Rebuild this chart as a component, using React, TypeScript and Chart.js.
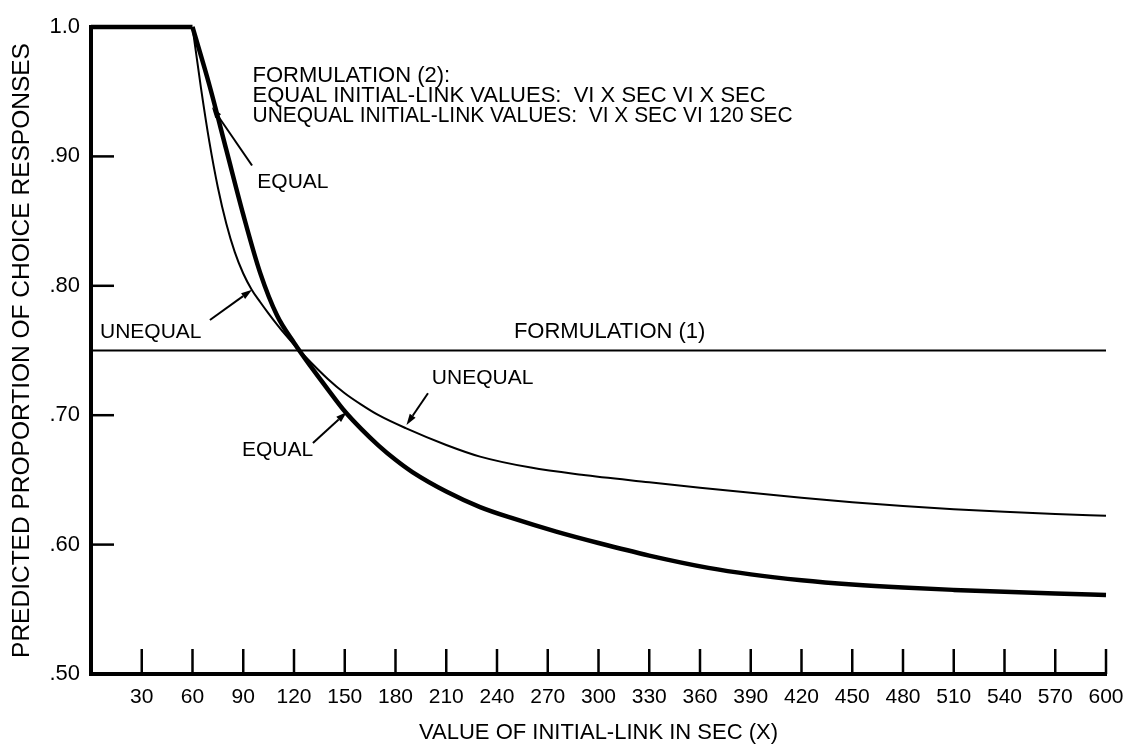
import React, { useEffect, useRef } from 'react';
import { Chart, registerables } from 'chart.js';

Chart.register(...registerables);

// ---- data ----
const xTickValues = [30, 60, 90, 120, 150, 180, 210, 240, 270, 300, 330, 360, 390, 420, 450, 480, 510, 540, 570, 600];
const yTickValues = [0.5, 0.6, 0.7, 0.8, 0.9, 1.0];
const yTickLabels = ['.50', '.60', '.70', '.80', '.90', '1.0'];
const yInnerTicks = [0.6, 0.7, 0.8, 0.9];

const plateauX = [0, 60];
const plateauY = [1.0, 1.0];

const equalX = [60, 70, 80, 90, 100, 110, 120, 130, 140, 150, 160, 170, 180, 190, 210, 230, 250, 275, 300, 330, 365, 390, 420, 450, 480, 510, 540, 570, 600];
const equalY = [1.0, 0.955, 0.905, 0.855, 0.81, 0.777, 0.756, 0.7375, 0.72, 0.703, 0.689, 0.6765, 0.6655, 0.656, 0.641, 0.629, 0.62, 0.61, 0.6012, 0.5915, 0.582, 0.577, 0.5725, 0.5692, 0.5668, 0.565, 0.5635, 0.5622, 0.561];

const unequalX = [60, 65, 70, 75, 80, 85, 90, 95, 100, 105, 110, 115, 120, 125, 140, 150, 160, 170, 186, 210, 230, 260, 290, 330, 360, 390, 420, 450, 480, 510, 540, 570, 600];
const unequalY = [1.0, 0.953, 0.911, 0.876, 0.848, 0.826, 0.8095, 0.797, 0.7875, 0.7785, 0.77, 0.762, 0.7545, 0.7475, 0.728, 0.717, 0.708, 0.7, 0.69, 0.677, 0.668, 0.6595, 0.654, 0.6482, 0.644, 0.64, 0.6362, 0.6328, 0.6298, 0.6273, 0.6253, 0.6236, 0.6222];

const formulation1X = [0, 600];
const formulation1Y = [0.75, 0.75];

const xTitle = 'VALUE OF INITIAL-LINK IN SEC (X)';
const yTitle = 'PREDICTED PROPORTION OF CHOICE RESPONSES';

// annotation texts (data coordinates of the left/middle anchor)
const noteTexts = [
  { text: 'FORMULATION (2):', x: 95.5, y: 0.9625, size: 22, maxW: 203 },
  { text: 'EQUAL INITIAL-LINK VALUES:  VI X SEC VI X SEC', x: 95.5, y: 0.947, size: 22, maxW: 535 },
  { text: 'UNEQUAL INITIAL-LINK VALUES:  VI X SEC VI 120 SEC', x: 95.5, y: 0.9315, size: 22, maxW: 540 },
  { text: 'EQUAL', x: 98.3, y: 0.88, size: 21, maxW: 0 },
  { text: 'UNEQUAL', x: 5.3, y: 0.764, size: 21, maxW: 0 },
  { text: 'FORMULATION (1)', x: 250, y: 0.764, size: 22, maxW: 0 },
  { text: 'UNEQUAL', x: 201.5, y: 0.7287, size: 21, maxW: 0 },
  { text: 'EQUAL', x: 89.2, y: 0.673, size: 21, maxW: 0 },
];

// arrows: tail -> tip (data coordinates)
const noteArrows = [
  { from: [95.2, 0.893], to: [71.5, 0.938] },
  { from: [70.3, 0.7736], to: [95.2, 0.797] },
  { from: [199.2, 0.717], to: [186.5, 0.6925] },
  { from: [131.2, 0.6785], to: [151.2, 0.7025] },
];

const FONT = '"Liberation Sans", Arial, sans-serif';

const pts = (xs: number[], ys: number[]) => xs.map((x, i) => ({ x, y: ys[i] }));

const overlayPlugin = {
  id: 'overlay',
  afterDraw(chart: any) {
    const { ctx, chartArea, scales } = chart;
    const xs = scales.x;
    const ys = scales.y;
    ctx.save();
    ctx.strokeStyle = '#000';
    ctx.fillStyle = '#000';
    ctx.lineCap = 'butt';
    // inward ticks
    ctx.lineWidth = 2.5;
    xTickValues.forEach((v) => {
      const px = xs.getPixelForValue(v);
      ctx.beginPath();
      ctx.moveTo(px, chartArea.bottom);
      ctx.lineTo(px, chartArea.bottom - 25);
      ctx.stroke();
    });
    yInnerTicks.forEach((v) => {
      const py = ys.getPixelForValue(v);
      ctx.beginPath();
      ctx.moveTo(chartArea.left, py);
      ctx.lineTo(chartArea.left + 23, py);
      ctx.stroke();
    });
    // texts
    ctx.textBaseline = 'middle';
    ctx.textAlign = 'left';
    noteTexts.forEach((t) => {
      ctx.font = `${t.size}px ${FONT}`;
      const px = xs.getPixelForValue(t.x);
      const py = ys.getPixelForValue(t.y);
      if (t.maxW) ctx.fillText(t.text, px, py, t.maxW);
      else ctx.fillText(t.text, px, py);
    });
    // arrows
    ctx.lineWidth = 2;
    noteArrows.forEach((a) => {
      const x1 = xs.getPixelForValue(a.from[0]);
      const y1 = ys.getPixelForValue(a.from[1]);
      const x2 = xs.getPixelForValue(a.to[0]);
      const y2 = ys.getPixelForValue(a.to[1]);
      const ang = Math.atan2(y2 - y1, x2 - x1);
      const len = 11;
      const hw = 3.5;
      const bx = x2 - len * Math.cos(ang);
      const by = y2 - len * Math.sin(ang);
      ctx.beginPath();
      ctx.moveTo(x1, y1);
      ctx.lineTo(bx, by);
      ctx.stroke();
      ctx.beginPath();
      ctx.moveTo(x2, y2);
      ctx.lineTo(bx + hw * Math.sin(ang), by - hw * Math.cos(ang));
      ctx.lineTo(bx - hw * Math.sin(ang), by + hw * Math.cos(ang));
      ctx.closePath();
      ctx.fill();
    });
    ctx.restore();
  },
};

export default function App() {
  const ref = useRef<HTMLCanvasElement | null>(null);
  useEffect(() => {
    document.body.style.margin = '0';
    if (!ref.current) return;
    Chart.defaults.font.family = FONT;
    Chart.defaults.color = '#000';
    const chart = new Chart(ref.current, {
      type: 'line',
      data: {
        datasets: [
          { label: 'plateau', data: pts(plateauX, plateauY), borderColor: '#000', borderWidth: 4.5, pointRadius: 0, clip: false as any },
          { label: 'EQUAL', data: pts(equalX, equalY), borderColor: '#000', borderWidth: 4.5, pointRadius: 0, cubicInterpolationMode: 'monotone', clip: false as any },
          { label: 'UNEQUAL', data: pts(unequalX, unequalY), borderColor: '#000', borderWidth: 2, pointRadius: 0, cubicInterpolationMode: 'monotone', clip: false as any },
          { label: 'FORMULATION (1)', data: pts(formulation1X, formulation1Y), borderColor: '#000', borderWidth: 2, pointRadius: 0, clip: false as any },
        ],
      },
      options: {
        animation: false,
        responsive: false,
        devicePixelRatio: 1,
        layout: { padding: { top: 27, right: 21, left: 0, bottom: 0 } },
        plugins: { legend: { display: false }, tooltip: { enabled: false } },
        scales: {
          x: {
            type: 'linear',
            min: 0,
            max: 600,
            grid: { display: false, drawTicks: false, tickLength: 0 },
            border: { display: true, width: 4, color: '#000' },
            afterBuildTicks: (s: any) => { s.ticks = xTickValues.map((v) => ({ value: v })); },
            afterFit: (s: any) => { s.height = 70; s.paddingLeft = 0; s.paddingRight = 0; },
            ticks: { padding: 11, font: { size: 21, family: FONT }, color: '#000', maxRotation: 0, autoSkip: false, callback: (v: any) => String(v) },
            title: { display: true, text: xTitle, font: { size: 22, family: FONT, lineHeight: 0.8 }, color: '#000', padding: { top: 0, bottom: 2 } },
          },
          y: {
            type: 'linear',
            min: 0.5,
            max: 1.0,
            grid: { display: false, drawTicks: false, tickLength: 0 },
            border: { display: true, width: 4, color: '#000' },
            afterBuildTicks: (s: any) => { s.ticks = yTickValues.map((v) => ({ value: v })); },
            afterFit: (s: any) => { s.width = 91; s.paddingTop = 0; s.paddingBottom = 0; },
            ticks: {
              padding: 11,
              font: { size: 22, family: FONT },
              color: '#000',
              autoSkip: false,
              callback: (v: any) => {
                const i = yTickValues.findIndex((t) => Math.abs(t - Number(v)) < 1e-6);
                return i >= 0 ? yTickLabels[i] : '';
              },
            },
            title: { display: true, text: yTitle, font: { size: 24.5, family: FONT, lineHeight: 1 }, color: '#000', padding: { top: 10, bottom: 0 } },
          },
        },
      },
      plugins: [overlayPlugin],
    } as any);
    return () => chart.destroy();
  }, []);
  return (
    <div style={{ position: 'fixed', left: 0, top: 0, width: 1127, height: 744, background: '#fff' }}>
      <canvas ref={ref} width={1127} height={744} style={{ width: 1127, height: 744 }} />
    </div>
  );
}
